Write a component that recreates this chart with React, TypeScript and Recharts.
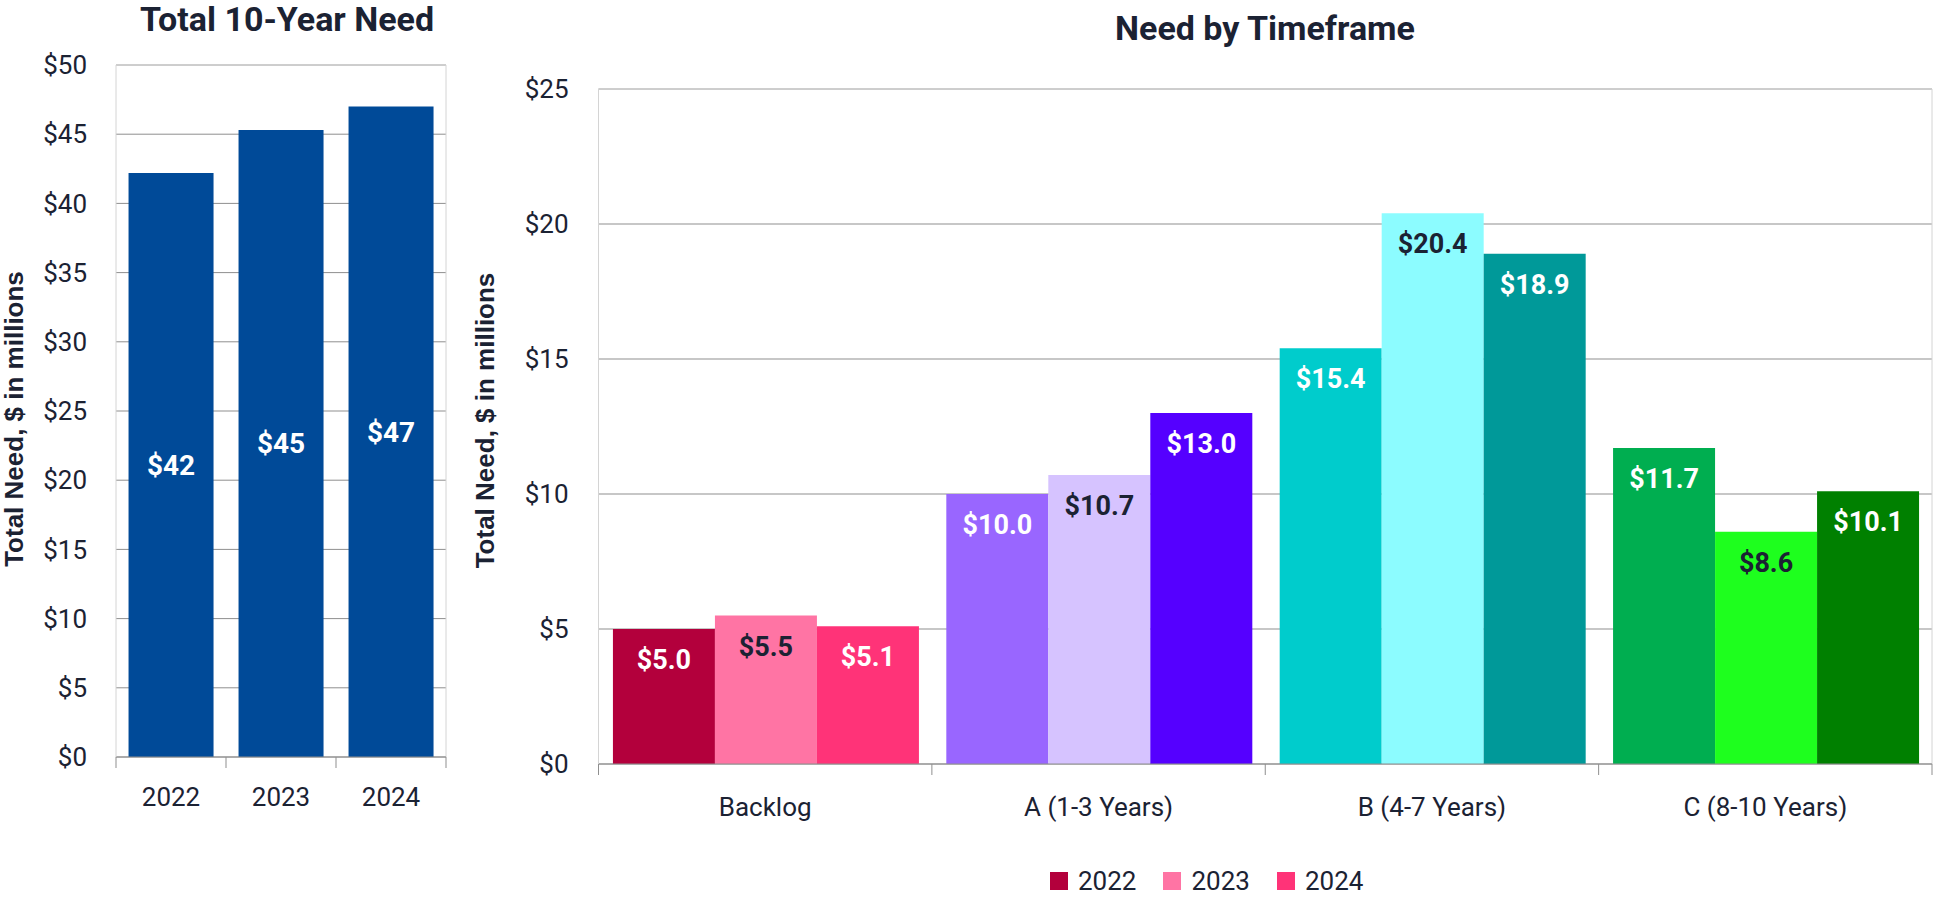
import React from "react";
import {
  BarChart,
  Bar,
  Cell,
  XAxis,
  YAxis,
  CartesianGrid,
  ReferenceLine,
  LabelList,
} from "recharts";

// ---- data ----
const years = ["2022", "2023", "2024"];
const totals = [42.2, 45.3, 47.0];
const totalTicks = [0, 5, 10, 15, 20, 25, 30, 35, 40, 45, 50];

const timeframes = ["Backlog", "A (1-3 Years)", "B (4-7 Years)", "C (8-10 Years)"];
const need2022 = [5.0, 10.0, 15.4, 11.7];
const need2023 = [5.5, 10.7, 20.4, 8.6];
const need2024 = [5.1, 13.0, 18.9, 10.1];
const timeframeTicks = [0, 5, 10, 15, 20, 25];

const colors2022 = ["#B3003C", "#9966FF", "#00CCCC", "#00AE50"];
const colors2023 = ["#FF74A4", "#D6C3FF", "#8CFCFF", "#1EFF1E"];
const colors2024 = ["#FF3378", "#5500FF", "#009999", "#008000"];
const totalColor = "#004A98";

const textColor = "#1B2233";
const gridColor = "#8F8F8F";
const borderColor = "#D4D4D4";
const tickFont = "Roboto, 'Noto Sans', sans-serif";

const totalData = years.map((y, i) => ({ year: y, total: totals[i] }));
const timeframeData = timeframes.map((t, i) => ({
  name: t,
  y2022: need2022[i],
  y2023: need2023[i],
  y2024: need2024[i],
}));

const money = (v: number) => `$${v}`;

// category tick with small marks on the band edges, like the original
const makeTick = (band: number, margin: number, count: number) => (props: any) => {
  const { x, y, payload, index } = props;
  const axisY = y - margin;
  return (
    <g>
      <line x1={x - band / 2} x2={x - band / 2} y1={axisY} y2={axisY + 11} stroke={gridColor} />
      {index === count - 1 && (
        <line x1={x + band / 2} x2={x + band / 2} y1={axisY} y2={axisY + 11} stroke={gridColor} />
      )}
      <text
        x={x}
        y={y}
        dy="0.71em"
        textAnchor="middle"
        fill={textColor}
        fontSize={26}
        fontFamily={tickFont}
      >
        {payload.value}
      </text>
    </g>
  );
};

const yLabel = (cx: number, shift: number) => (props: any) => {
  const vb = props.viewBox || {};
  const cy = (vb.y || 0) + (vb.height || 0) / 2 + shift;
  return (
    <text
      x={cx}
      y={cy}
      transform={`rotate(-90, ${cx}, ${cy})`}
      textAnchor="middle"
      dominantBaseline="central"
      fill={textColor}
      fontSize={26}
      fontWeight="bold"
      fontFamily="'Liberation Sans', Arial, sans-serif"
    >
      Total Need, $ in millions
    </text>
  );
};

const titleStyle: React.CSSProperties = {
  position: "absolute",
  fontFamily: tickFont,
  fontWeight: 700,
  fontSize: 34,
  color: textColor,
  transform: "translate(-50%, -50%)",
  whiteSpace: "nowrap",
};

const legendItems = [
  { label: years[0], color: colors2022[0] },
  { label: years[1], color: colors2023[0] },
  { label: years[2], color: colors2024[0] },
];

export default function App() {
  const leftW = 460;
  const rightW = 1496;
  const leftBand = (leftW - 14 - 116) / years.length;
  const rightBand = (rightW - 4 - 158.5) / timeframes.length;

  return (
    <div
      style={{
        position: "absolute",
        left: 0,
        top: 0,
        width: 1936,
        height: 900,
        background: "#fff",
        fontFamily: tickFont,
      }}
    >
      <div style={{ ...titleStyle, left: 287, top: 19 }}>Total 10-Year Need</div>
      <div style={{ ...titleStyle, left: 1265, top: 28 }}>Need by Timeframe</div>

      <div style={{ position: "absolute", left: 0, top: 0 }}>
        <BarChart
          width={leftW}
          height={900}
          data={totalData}
          margin={{ top: 65, right: 14, bottom: 103, left: 0 }}
          barCategoryGap="11.4%"
        >
          <CartesianGrid horizontal vertical={false} stroke={gridColor} />
          <CartesianGrid
            horizontal={false}
            vertical
            stroke={borderColor}
            verticalCoordinatesGenerator={({ offset }: any) => [offset.left + offset.width]}
          />
          <ReferenceLine y={50} stroke={borderColor} />
          <XAxis
            dataKey="year"
            height={40}
            axisLine={{ stroke: gridColor }}
            tickLine={false}
            tickSize={0}
            tickMargin={31}
            interval={0}
            tick={makeTick(leftBand, 31, years.length)}
          />
          <YAxis
            width={116}
            domain={[0, 50]}
            ticks={totalTicks}
            interval={0}
            tickFormatter={money}
            axisLine={{ stroke: borderColor }}
            tickLine={false}
            tickSize={0}
            tickMargin={29}
            tick={{ fill: textColor, fontSize: 26, fontFamily: tickFont }}
            label={yLabel(14, 8)}
          />
          <Bar dataKey="total" fill={totalColor} isAnimationActive={false}>
            <LabelList
              dataKey="total"
              position="center"
              formatter={(v: any) => `$${Math.round(Number(v))}`}
              fill="#fff"
              fontSize={28}
              fontWeight="bold"
              fontFamily={tickFont}
            />
          </Bar>
        </BarChart>
      </div>

      <div style={{ position: "absolute", left: 440, top: 0 }}>
        <BarChart
          width={rightW}
          height={900}
          data={timeframeData}
          margin={{ top: 89, right: 4, bottom: 96, left: 0 }}
          barCategoryGap="4.33%"
          barGap={0}
        >
          <CartesianGrid horizontal vertical={false} stroke={gridColor} />
          <CartesianGrid
            horizontal={false}
            vertical
            stroke={borderColor}
            verticalCoordinatesGenerator={({ offset }: any) => [offset.left + offset.width]}
          />
          <ReferenceLine y={25} stroke={borderColor} />
          <XAxis
            dataKey="name"
            height={40}
            axisLine={{ stroke: gridColor }}
            tickLine={false}
            tickSize={0}
            tickMargin={34}
            interval={0}
            tick={makeTick(rightBand, 34, timeframes.length)}
          />
          <YAxis
            width={158.5}
            domain={[0, 25]}
            ticks={timeframeTicks}
            interval={0}
            tickFormatter={money}
            axisLine={{ stroke: borderColor }}
            tickLine={false}
            tickSize={0}
            tickMargin={30}
            tick={{ fill: textColor, fontSize: 26, fontFamily: tickFont }}
            label={yLabel(45, -6)}
          />
          {[
            { key: "y2022", colors: colors2022, label: "#fff" },
            { key: "y2023", colors: colors2023, label: textColor },
            { key: "y2024", colors: colors2024, label: "#fff" },
          ].map((s) => (
            <Bar key={s.key} dataKey={s.key} isAnimationActive={false} fill={s.colors[0]}>
              {timeframeData.map((_, i) => (
                <Cell key={`${s.key}-${i}`} fill={s.colors[i]} />
              ))}
              <LabelList
                dataKey={s.key}
                position="insideTop"
                offset={21}
                formatter={(v: any) => `$${Number(v).toFixed(1)}`}
                fill={s.label}
                fontSize={27}
                fontWeight="bold"
                fontFamily={tickFont}
              />
            </Bar>
          ))}
        </BarChart>
      </div>

      <div
        style={{
          position: "absolute",
          left: 1050,
          top: 866,
          display: "flex",
          alignItems: "center",
          fontSize: 26,
          color: textColor,
          lineHeight: "30px",
        }}
      >
        {legendItems.map((it, i) => (
          <div key={it.label} style={{ display: "flex", alignItems: "center", marginRight: i < 2 ? 27 : 0 }}>
            <span style={{ width: 18, height: 18, background: it.color, marginRight: 10, display: "inline-block" }} />
            <span>{it.label}</span>
          </div>
        ))}
      </div>
    </div>
  );
}
